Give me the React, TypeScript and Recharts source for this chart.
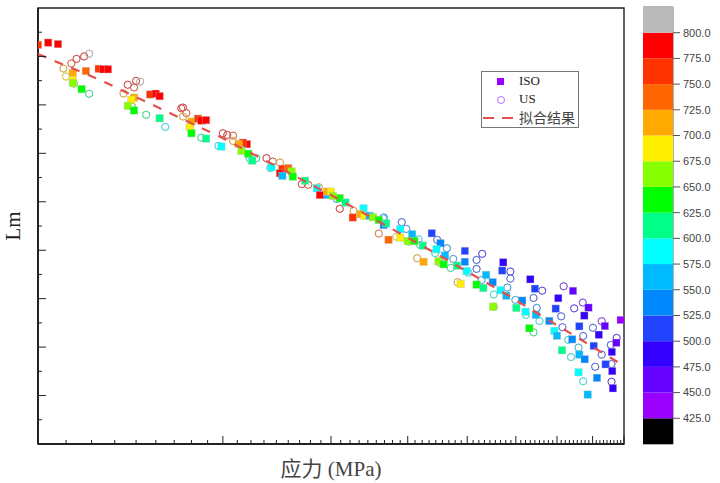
import { useMemo } from "react";
import {
  Bar,
  BarChart,
  Label,
  ReferenceArea,
  Scatter,
  ScatterChart,
  XAxis,
  YAxis,
} from "recharts";

const SERIF = '"Liberation Serif", "Noto Sans CJK SC", serif';
const RED = "#e2504f";

// colour bar, bottom to top: below 425, one band per 25 degrees, above 800
const bandColors = [
  "#000000", "#9900ff", "#6600ff", "#3300ff", "#2244ff", "#0088ff", "#00bbff", "#00ffff",
  "#00ff88", "#00ff00", "#88ff00", "#ffee00", "#ffaa00", "#ff6600", "#ff3300", "#ff0000", "#bbbbbb",
];
const bandTicks = [425, 450, 475, 500, 525, 550, 575, 600, 625, 650, 675, 700, 725, 750, 775, 800];

// [stress MPa, Lm, temperature]
const isoPoints = [
  [90, 16.48, 760], [93.5, 16.57, 790], [97, 16.51, 790], [102.5, 15.31, 710], [102.5, 15.03, 690],
  [102.6, 14.9, 660], [107.7, 15.4, 740], [113, 15.49, 760], [115, 15.47, 790], [117, 15.47, 790],
  [106, 14.65, 640], [129, 14.3, 710], [127.7, 14.21, 690], [126, 13.96, 660], [129, 13.77, 640],
  [137, 14.43, 760], [140, 14.46, 790], [142, 14.36, 790], [142, 13.45, 610], [160, 13.31, 710],
  [159, 13.08, 690], [160, 12.83, 640], [164, 13.43, 760], [166, 13.35, 790], [169, 13.37, 790],
  [169, 12.61, 610], [179, 12.28, 590], [197, 12.38, 790], [194, 12.44, 760], [191, 12.38, 710],
  [193, 12.1, 660], [198, 11.98, 640], [201, 11.7, 610], [216, 11.43, 590], [225, 11.36, 760],
  [230, 11.39, 740], [223, 11.18, 790], [225, 11.07, 560], [233, 11.25, 660], [234, 11.04, 640],
  [245, 10.87, 610], [256, 10.56, 590], [265, 10.28, 560], [259, 10.28, 790], [266, 10.42, 710],
  [270, 10.42, 690], [279, 10.15, 640], [272, 10.24, 660], [285, 9.97, 610], [305, 9.73, 590],
  [293, 9.35, 760], [301, 9.49, 710], [306, 9.42, 690], [312, 9.42, 560], [316, 9.36, 660],
  [323, 9.25, 640], [329, 9.04, 540], [332, 9.11, 610], [335, 8.43, 740], [350, 8.87, 590],
  [366, 8.66, 560], [350, 8.52, 690], [360, 8.38, 660], [369, 8.38, 640], [381, 8.19, 610],
  [394, 8.7, 510], [407, 8.29, 540], [401, 8.04, 590], [414, 7.78, 560], [382, 7.52, 710],
  [404, 7.55, 660], [412, 7.42, 640], [433, 7.36, 610], [446, 7.97, 510], [446, 7.52, 540],
  [449, 7.14, 590], [439, 6.61, 690], [483, 6.98, 560], [495, 6.68, 540], [466, 6.58, 640],
  [478, 6.44, 610], [496, 5.67, 660], [515, 7.5, 490], [513, 7.16, 510], [510, 6.35, 590],
  [521, 6.12, 560], [570, 6.8, 490], [580, 6.41, 510], [553, 5.92, 540], [541, 5.62, 610],
  [560, 5.46, 590], [582, 5.33, 560], [568, 4.78, 640], [633, 6.02, 490], [669, 6.32, 460],
  [627, 5.59, 510], [709, 5.63, 460], [698, 5.3, 490], [612, 5.08, 540], [685, 4.86, 510],
  [754, 4.87, 460], [737, 4.51, 490], [800, 5.12, 440], [624, 4.67, 590], [630, 4.47, 560],
  [667, 4.32, 540], [723, 4.05, 510], [787, 4.18, 460], [774, 3.8, 490], [642, 3.87, 610],
  [685, 3.69, 560], [699, 3.5, 540], [756, 3.29, 510], [775, 3.01, 490], [683, 2.96, 590],
  [732, 2.73, 540], [777, 2.3, 490], [707, 2.04, 560],
];

const usPoints = [
  [99, 15.5, 710], [102, 15.71, 760], [104, 15.9, 790], [107, 16.0, 790], [109, 16.11, 810],
  [100, 15.17, 690], [103, 14.88, 660], [109, 14.46, 610], [126, 14.83, 790], [129, 14.72, 760],
  [130, 14.99, 790], [132, 14.96, 810], [124, 14.47, 710], [128, 13.93, 640], [135, 13.59, 610],
  [145, 13.09, 590], [154, 13.86, 790], [155, 13.89, 790], [157, 13.66, 760], [155, 13.52, 710],
  [159, 13.1, 660], [166, 12.65, 610], [177, 12.31, 590], [180, 12.83, 790], [183, 12.76, 790],
  [187, 12.73, 760], [187, 12.51, 710], [212, 11.8, 790], [217, 11.66, 760], [223, 11.62, 710],
  [199, 11.8, 590], [204, 11.8, 610], [215, 11.39, 590], [242, 10.73, 790], [248, 10.7, 760],
  [258, 10.6, 710], [279, 9.71, 790], [294, 9.62, 710], [276, 10.11, 560], [329, 9.35, 510],
  [352, 9.16, 510], [358, 8.88, 540], [323, 8.69, 730], [345, 8.56, 690], [361, 8.35, 660],
  [375, 8.45, 590], [377, 8.22, 610], [373, 7.67, 710], [328, 9.32, 590], [402, 8.43, 510],
  [417, 8.08, 540], [399, 7.88, 590], [405, 7.49, 660], [427, 7.64, 560], [423, 7.27, 610],
  [476, 7.85, 490], [466, 7.6, 510], [466, 7.23, 510], [452, 7.07, 590], [434, 6.68, 710],
  [475, 6.77, 560], [497, 6.17, 590], [497, 5.67, 660], [523, 6.46, 540], [529, 7.12, 490],
  [529, 6.83, 510], [539, 5.95, 560], [596, 6.33, 490], [577, 6.03, 510], [646, 6.51, 460],
  [584, 5.62, 540], [561, 5.33, 590], [590, 5.08, 590], [640, 5.27, 510], [672, 5.6, 490],
  [694, 5.84, 460], [643, 4.82, 510], [577, 4.61, 610], [657, 4.3, 590], [721, 4.8, 510],
  [745, 5.07, 460], [695, 4.46, 510], [771, 4.09, 510], [788, 4.38, 490], [683, 3.98, 560],
  [745, 3.69, 510], [664, 3.59, 590], [727, 3.19, 510], [773, 3.3, 510], [695, 2.59, 590],
  [773, 2.57, 490],
];

const fitPoints = [
  [90, 16.1], [113.6, 15.03], [179.5, 12.64], [270, 10.28], [396, 7.93], [510, 6.32], [795, 3.35],
];

function tempColor(t: number) {
  const i = Math.floor((t - 400) / 25);
  return bandColors[Math.min(i, bandColors.length - 1)];
}

function IsoMark(props: any) {
  const { cx, cy, payload } = props;
  return (
    <rect
      x={cx - 3.7}
      y={cy - 3.7}
      width={7.4}
      height={7.4}
      fill={tempColor(payload.t)}
      stroke="#bbb"
      strokeOpacity={0.6}
      strokeWidth={0.6}
    />
  );
}

// the US rings read paler than the bands in the source
function UsMark(props: any) {
  const { cx, cy, payload } = props;
  return (
    <g>
      <circle cx={cx} cy={cy} r={3.6} fill="none" stroke="#a8a8a8" strokeWidth={1} />
      <circle cx={cx} cy={cy} r={3.6} fill="none" stroke={tempColor(payload.t)} strokeOpacity={0.6} strokeWidth={1} />
    </g>
  );
}

function XTick(props: any) {
  const { x, y, payload } = props;
  const len = payload.value % 90 === 0 ? 8 : 4;
  return <line x1={x} x2={x} y1={y} y2={y - len} stroke="#222" strokeWidth={1} />;
}

function YTick(props: any) {
  const { x, y, payload } = props;
  const len = payload.value % 2 === 0 ? 8 : 4;
  return <line x1={x} x2={x + len} y1={y} y2={y} stroke="#222" strokeWidth={1} />;
}

function LegendBox() {
  const label = { position: "absolute", left: 37, whiteSpace: "nowrap" } as const;
  return (
    <div
      style={{
        position: "absolute",
        left: 481,
        top: 71,
        width: 96,
        height: 55,
        border: "1px solid #777",
        background: "#fff",
        fontFamily: SERIF,
        fontSize: 13,
        color: "#222",
      }}
    >
      <span style={{ position: "absolute", left: 15, top: 6, width: 7, height: 7, background: "#9900ff" }} />
      <span style={{ ...label, top: 1 }}>ISO</span>
      <span
        style={{
          position: "absolute",
          left: 14.5,
          top: 24,
          width: 6,
          height: 6,
          border: "1px solid #b070ff",
          borderRadius: "50%",
        }}
      />
      <span style={{ ...label, top: 19 }}>US</span>
      <svg style={{ position: "absolute", left: 1, top: 44 }} width={32} height={4}>
        <line x1={0} x2={31} y1={2} y2={2} stroke={RED} strokeWidth={2} strokeDasharray="11 8" />
      </svg>
      <span style={{ ...label, top: 35, fontSize: 14, color: "#444" }}>拟合结果</span>
    </div>
  );
}

export default function App() {
  const iso = useMemo(() => isoPoints.map(([x, y, t]) => ({ x, y, t })), []);
  const us = useMemo(() => usPoints.map(([x, y, t]) => ({ x, y, t })), []);
  const fit = useMemo(() => fitPoints.map(([x, y]) => ({ x, y })), []);
  const xTicks: number[] = [];
  for (let v = 90; v <= 810; v += 10) xTicks.push(v);
  const yTicks: number[] = [];
  for (let v = 1; v <= 17; v += 1) yTicks.push(v);
  const barRow: Record<string, number | string> = { name: "t" };
  bandColors.forEach((_, i) => {
    barRow[`b${i}`] = i === 0 ? 425 : 25;
  });

  return (
    <div style={{ position: "absolute", left: 0, top: 0, width: 720, height: 483, background: "#fff" }}>
      <ScatterChart
        width={720}
        height={483}
        margin={{ top: 8, right: 96, bottom: 0, left: 0 }}
      >
        <XAxis
          dataKey="x"
          type="number"
          scale="log"
          domain={[90, 810]}
          ticks={xTicks}
          interval={0}
          allowDataOverflow
          height={39}
          tickSize={0}
          tickMargin={0}
          tick={<XTick />}
          axisLine={{ stroke: "#222", strokeWidth: 2 }}
        >
          <Label
            content={() => (
              <text x={331} y={476} textAnchor="middle" fontFamily={SERIF} fontSize={21} fill="#444">
                应力 (MPa)
              </text>
            )}
          />
        </XAxis>
        <YAxis
          dataKey="y"
          type="number"
          domain={[0, 18]}
          ticks={yTicks}
          interval={0}
          width={38}
          tickSize={0}
          tickMargin={0}
          tick={<YTick />}
          axisLine={{ stroke: "#222", strokeWidth: 2 }}
        >
          <Label
            content={() => (
              <text
                x={20}
                y={226}
                textAnchor="middle"
                fontFamily={SERIF}
                fontSize={21}
                fill="#222"
                transform="rotate(-90 20 226)"
              >
                Lm
              </text>
            )}
          />
        </YAxis>
        <ReferenceArea x1={90} x2={810} y1={0} y2={18} fill="none" stroke="#222" strokeWidth={1.4} />
        <Scatter data={us} shape={<UsMark />} isAnimationActive={false} />
        <Scatter data={iso} shape={<IsoMark />} isAnimationActive={false} />
        <Scatter
          data={fit}
          shape={() => null}
          line={{ stroke: RED, strokeWidth: 2.2, strokeDasharray: "9 9" }}
          lineType="joint"
          isAnimationActive={false}
        />
      </ScatterChart>

      <LegendBox />

      <div style={{ position: "absolute", left: 643, top: 0 }}>
        <BarChart
          width={77}
          height={483}
          data={[barRow]}
          margin={{ top: 7, right: 0, bottom: 39, left: 0 }}
          barCategoryGap={0}
        >
          <XAxis dataKey="name" hide />
          <YAxis
            type="number"
            orientation="right"
            domain={[400, 825]}
            ticks={bandTicks}
            interval={0}
            allowDataOverflow
            width={47}
            tickSize={7}
            tickMargin={3}
            axisLine={false}
            tickLine={{ stroke: "#555" }}
            tick={{ fontSize: 11, fill: "#444", fontFamily: '"Liberation Sans", sans-serif' }}
            tickFormatter={(v: number) => v.toFixed(1)}
          />
          {bandColors.map((c, i) => (
            <Bar key={c} dataKey={`b${i}`} stackId="t" fill={c} isAnimationActive={false} />
          ))}
          <ReferenceArea y1={400} y2={825} fill="none" stroke="#666" strokeWidth={1} />
        </BarChart>
      </div>
    </div>
  );
}
